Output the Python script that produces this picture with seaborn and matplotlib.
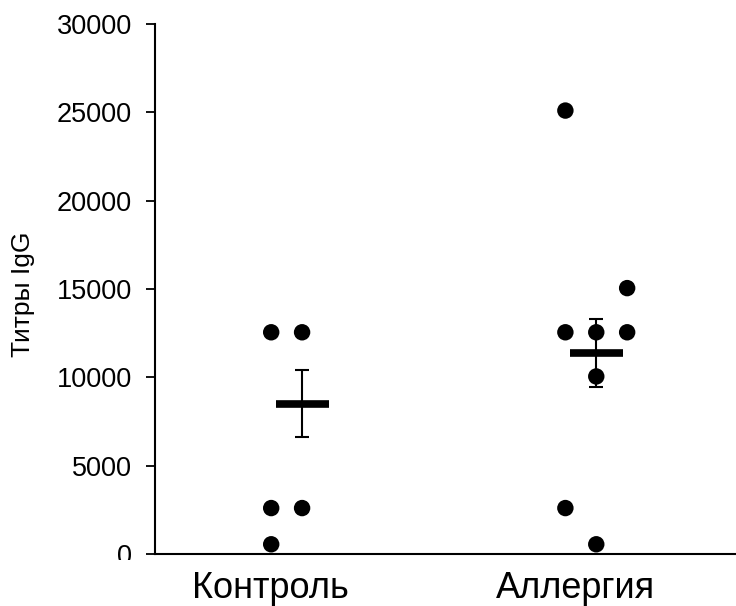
import matplotlib
matplotlib.use("Agg")
import matplotlib.pyplot as plt
import matplotlib.transforms as mtransforms
import numpy as np
import pandas as pd
import seaborn as sns

# Group labels
groups = ["Контроль", "Аллергия"]

# Individual IgG titres per group
control_values = [12550, 12550, 2600, 2600, 550]
allergy_values = [25100, 15050, 12550, 12550, 12550, 10050, 2600, 550]

# Group mean and standard error as plotted
group_means = [8500, 11400]
group_sem = [1900, 1930]

# Column slot of each dot inside its group (-1 left, 0 centre, +1 right)
control_slots = [-1, 0, -1, 0, -1]
allergy_slots = [-1, 1, -1, 0, 1, 0, -1, 0]

y_ticks = [0, 5000, 10000, 15000, 20000, 25000, 30000]

slot_step = 0.105

rows = []
for gi, (vals, slots) in enumerate([(control_values, control_slots),
                                     (allergy_values, allergy_slots)]):
    for v, s in zip(vals, slots):
        rows.append({"group": groups[gi], "pos": gi + s * slot_step, "titre": v})
df = pd.DataFrame(rows)

sns.set_theme(style="white")
plt.rcParams["font.family"] = ["Liberation Sans", "DejaVu Sans"]

W, H = 736, 606
fig = plt.figure(figsize=(W / 100, H / 100), dpi=100)
ax = fig.add_axes([155 / W, 52 / H, 1 - 155 / W, (554 - 24) / H])

sns.scatterplot(data=df, x="pos", y="titre", ax=ax, color="black",
                s=140, edgecolor="none", linewidth=0, legend=False, zorder=3)

xpos = np.arange(len(groups))
ax.errorbar(xpos, group_means, yerr=group_sem, fmt="none", ecolor="black",
            elinewidth=1.5, capsize=5, capthick=1.5, zorder=4)
ax.hlines(group_means, xpos - 0.09, xpos + 0.09, colors="black",
          linewidth=5.5, zorder=5)

ax.set_xlim(-0.5, 1.475)
ax.set_ylim(0, 30000)
ax.set_yticks(y_ticks)
ax.set_yticklabels([str(t) for t in y_ticks])
ax.set_xticks(xpos)
ax.set_xticklabels(groups)
ax.set_xlabel("")
ax.set_ylabel("")
fig.text(23 / W, 1 - 294 / H, "Титры IgG", rotation=90, ha="center",
         va="center", fontsize=19, color="black")

for side in ("top", "right"):
    ax.spines[side].set_visible(False)
for side in ("left", "bottom"):
    ax.spines[side].set_color("black")
    ax.spines[side].set_linewidth(1.5)

ax.tick_params(axis="y", which="major", direction="out", length=6.5,
               width=1.3, color="black", labelsize=19.5, pad=10, left=True)
ax.tick_params(axis="x", which="major", length=0, labelsize=26, pad=12,
               bottom=False)
for lab in ax.get_xticklabels() + ax.get_yticklabels():
    lab.set_color("black")

# category labels sit a little left of their columns
for lab, dx in zip(ax.get_xticklabels(), [-32, -21]):
    lab.set_transform(lab.get_transform()
                      + mtransforms.ScaledTranslation(dx / 100, 0, fig.dpi_scale_trans))

# the lowest y label is partly hidden beneath the category labels
fig.canvas.draw()
zero_lab = ax.get_yticklabels()[0]
clip = mtransforms.Bbox.from_extents(0, H - 560, W, H)
zero_lab.set_clip_box(mtransforms.TransformedBbox(clip, mtransforms.IdentityTransform()))
zero_lab.set_clip_on(True)

fig.savefig("out.png", dpi=100)
